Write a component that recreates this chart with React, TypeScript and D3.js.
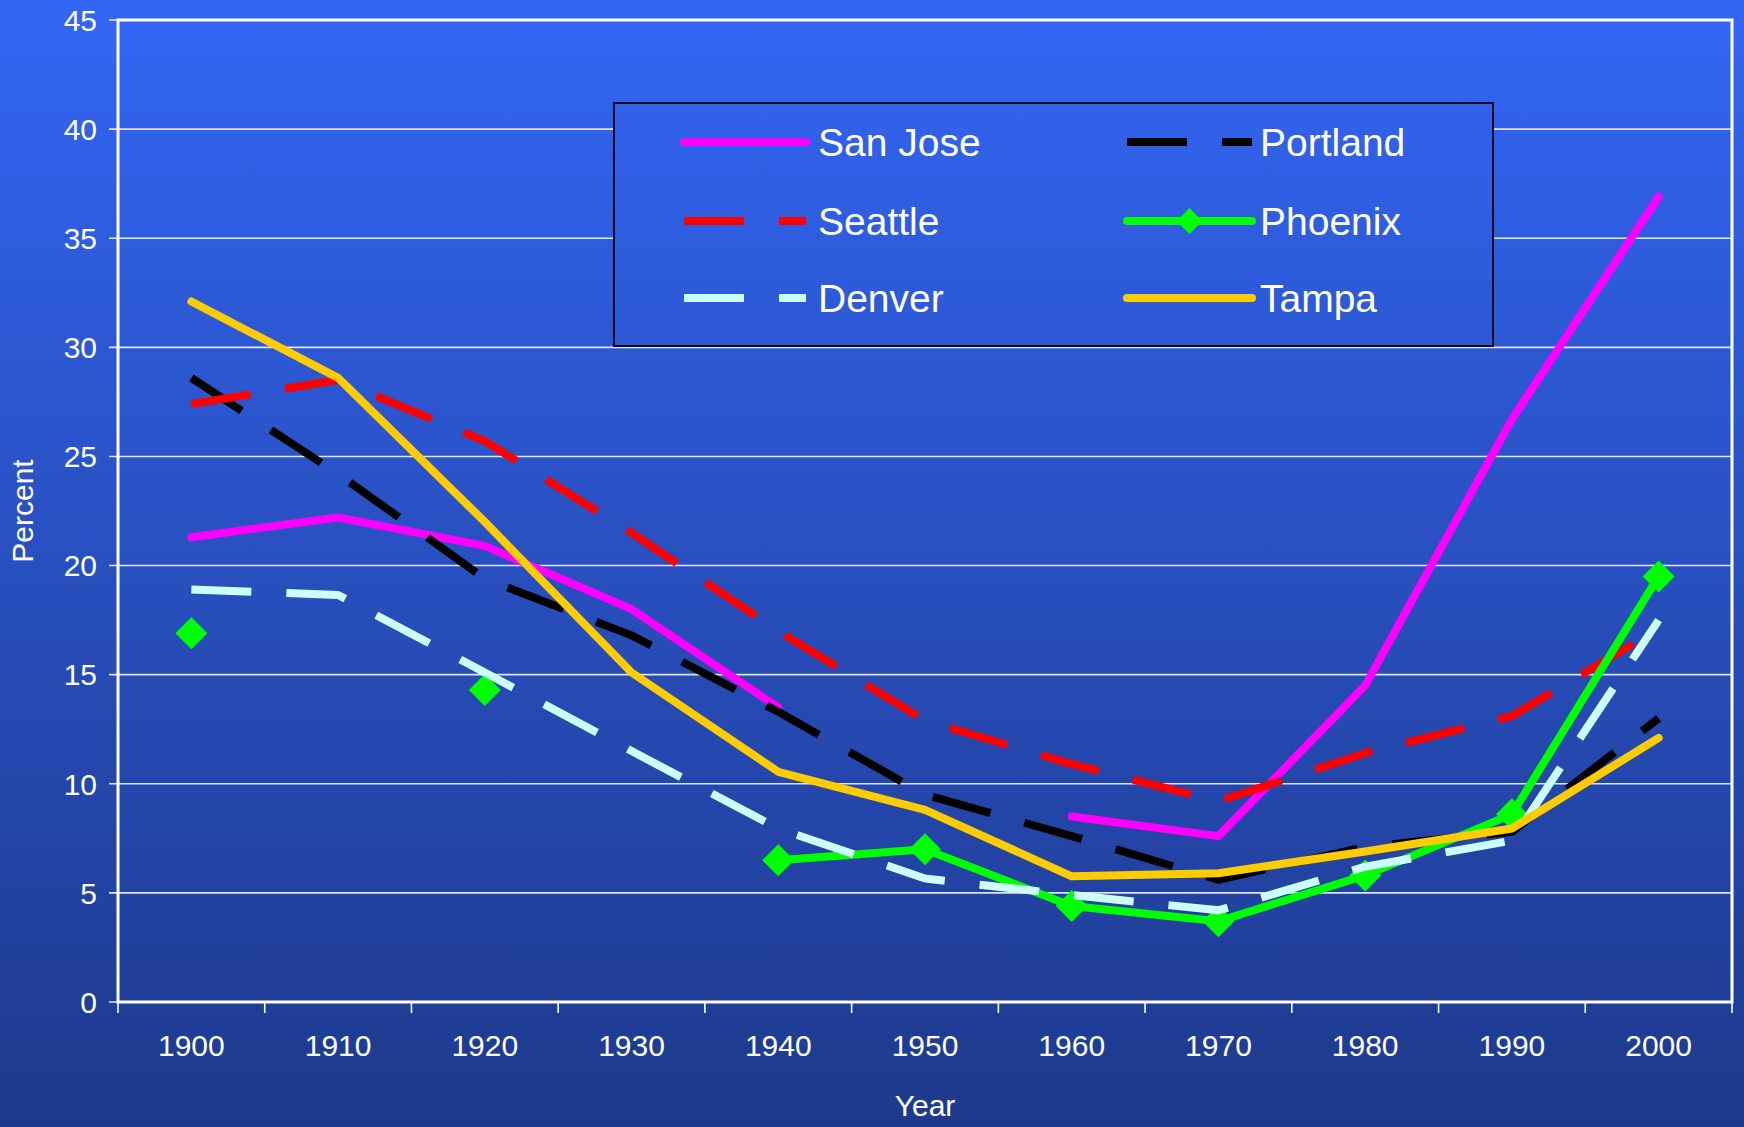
import React from "react";
import * as d3 from "d3";

const years = [1900, 1910, 1920, 1930, 1940, 1950, 1960, 1970, 1980, 1990, 2000];
const yTicks = [0, 5, 10, 15, 20, 25, 30, 35, 40, 45];

const sanJose = [21.3, 22.2, 20.9, 18.0, 13.5, null, 8.5, 7.6, 14.5, 26.7, 36.9];
const portland = [28.6, 24.2, 19.4, 16.8, 13.3, 9.5, 7.6, 5.6, 7.1, 7.8, 13.0];
const seattle = [27.4, 28.5, 25.7, 21.5, 17.0, 12.9, 10.9, 9.2, 11.4, 13.1, 17.1];
const phoenix = [16.9, null, 14.3, null, 6.5, 7.0, 4.4, 3.7, 5.8, 8.6, 19.5];
const denver = [18.9, 18.65, 15.1, 11.5, 7.95, 5.66, 4.9, 4.2, 6.2, 7.4, 17.5];
const tampa = [32.1, 28.6, 22.0, 15.1, 10.55, 8.8, 5.76, 5.9, 6.9, 7.95, 12.1];

type Series = {
  name: string;
  values: (number | null)[];
  color: string;
  dashed: boolean;
  marker: boolean;
};

const series: Series[] = [
  { name: "San Jose", values: sanJose, color: "#FF00FF", dashed: false, marker: false },
  { name: "Portland", values: portland, color: "#000000", dashed: true, marker: false },
  { name: "Seattle", values: seattle, color: "#FF0000", dashed: true, marker: false },
  { name: "Phoenix", values: phoenix, color: "#00FF00", dashed: false, marker: true },
  { name: "Denver", values: denver, color: "#CCFFFF", dashed: true, marker: false },
  { name: "Tampa", values: tampa, color: "#FFCC00", dashed: false, marker: false },
];

const legendOrder = ["San Jose", "Portland", "Seattle", "Phoenix", "Denver", "Tampa"];

const W = 1744;
const H = 1127;
const left = 118;
const right = 1732;
const top = 20;
const bottom = 1002;
const font = "'Liberation Sans', Arial, sans-serif";
const SW = 8;
const DASH = "60 35";

export default function App() {
  const x = d3.scaleBand<number>().domain(years).range([left, right]).padding(0);
  const cx = (yr: number) => (x(yr) as number) + x.bandwidth() / 2;
  const y = d3.scaleLinear().domain([0, 45]).range([bottom, top]);

  const line = d3
    .line<{ yr: number; v: number | null }>()
    .defined((d) => d.v !== null)
    .x((d) => cx(d.yr))
    .y((d) => y(d.v as number));

  const diamond = (px: number, py: number, r: number) =>
    `M${px},${py - r}L${px + r},${py}L${px},${py + r}L${px - r},${py}Z`;

  const legendRows = [142, 221, 298];
  const legendCols = [{ x0: 684, x1: 806, tx: 818 }, { x0: 1127, x1: 1252, tx: 1260 }];

  return (
    <svg
      width={W}
      height={H}
      style={{ position: "absolute", left: 0, top: 0, display: "block" }}
      fontFamily={font}
    >
      <defs>
        <linearGradient id="bg" gradientUnits="userSpaceOnUse" x1="0" y1="0" x2="0" y2={H}>
          <stop offset="0" stopColor="#3366F4" />
          <stop offset="1" stopColor="#1E398C" />
        </linearGradient>
      </defs>
      <rect x={0} y={0} width={W} height={H} fill="url(#bg)" />

      {/* gridlines and y ticks */}
      {yTicks.map((t) => (
        <g key={t}>
          <line x1={left - 9} x2={right} y1={y(t)} y2={y(t)} stroke="#FFFFFF" strokeOpacity={0.85} strokeWidth={1.6} />
          <text
            x={97}
            y={y(t)}
            dy="0.36em"
            textAnchor="end"
            fontSize={30}
            fill="#FFFFFF"
          >
            {t}
          </text>
        </g>
      ))}

      {/* x ticks */}
      {years.map((yr) => (
        <line
          key={"t" + yr}
          x1={x(yr) as number}
          x2={x(yr) as number}
          y1={bottom}
          y2={bottom + 11}
          stroke="#FFFFFF"
          strokeWidth={1.6}
        />
      ))}
      <line x1={right} x2={right} y1={bottom} y2={bottom + 11} stroke="#FFFFFF" strokeWidth={1.6} />
      {years.map((yr) => (
        <text
          key={"l" + yr}
          x={cx(yr)}
          y={1045}
          dy="0.36em"
          textAnchor="middle"
          fontSize={30}
          fill="#FFFFFF"
        >
          {yr}
        </text>
      ))}

      {/* plot border */}
      <rect
        x={left}
        y={top}
        width={right - left}
        height={bottom - top}
        fill="none"
        stroke="#FFFFFF"
        strokeWidth={3}
      />

      {/* legend */}
      <rect x={614} y={103} width={879} height={243} fill="url(#bg)" stroke="#0A0A20" strokeWidth={2} />
      {legendOrder.map((name, i) => {
        const s = series.find((d) => d.name === name) as Series;
        const col = legendCols[i % 2];
        const ry = legendRows[Math.floor(i / 2)];
        return (
          <g key={"lg" + name}>
            <line
              x1={col.x0}
              x2={col.x1}
              y1={ry}
              y2={ry}
              stroke={s.color}
              strokeWidth={SW}
              strokeDasharray={s.dashed ? DASH : undefined}
              strokeLinecap={s.dashed ? "butt" : "round"}
            />
            {s.marker && <path d={diamond((col.x0 + col.x1) / 2, ry, 13)} fill={s.color} />}
            <text x={col.tx} y={ry} dy="0.36em" fontSize={39} fill="#FFFFFF">
              {name}
            </text>
          </g>
        );
      })}

      {/* series lines */}
      {series.map((s) => {
        const pts = years.map((yr, i) => ({ yr, v: s.values[i] }));
        return (
          <g key={s.name}>
            <path
              d={line(pts) || ""}
              fill="none"
              stroke={s.color}
              strokeWidth={SW}
              strokeDasharray={s.dashed ? DASH : undefined}
              strokeLinecap={s.dashed ? "butt" : "round"}
              strokeLinejoin="round"
            />
            {s.marker &&
              pts
                .filter((p) => p.v !== null)
                .map((p) => (
                  <path key={p.yr} d={diamond(cx(p.yr), y(p.v as number), 16)} fill={s.color} />
                ))}
          </g>
        );
      })}

      {/* axis titles */}
      <text x={(left + right) / 2} y={1105} dy="0.36em" textAnchor="middle" fontSize={30} fill="#FFFFFF">
        Year
      </text>
      <text
        transform={`translate(22,511) rotate(-90)`}
        dy="0.36em"
        textAnchor="middle"
        fontSize={30}
        fill="#FFFFFF"
      >
        Percent
      </text>
    </svg>
  );
}
